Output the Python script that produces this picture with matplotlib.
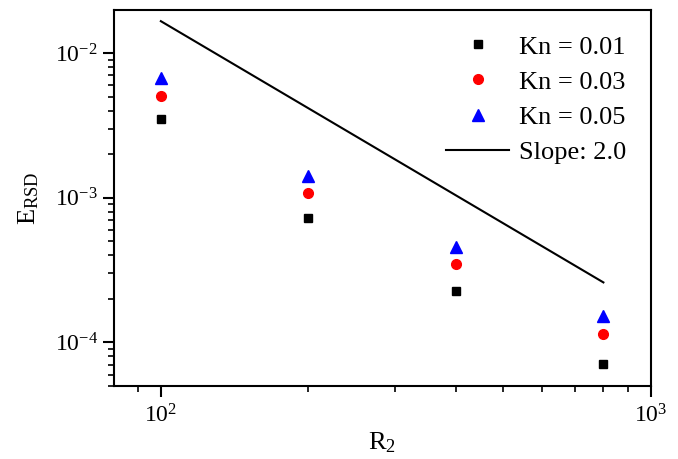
import numpy as np
import matplotlib
matplotlib.use("Agg")
import matplotlib.pyplot as plt

plt.rcParams["font.family"] = "Liberation Serif"
plt.rcParams["mathtext.fontset"] = "custom"
plt.rcParams["mathtext.rm"] = "Liberation Serif"
plt.rcParams["mathtext.it"] = "Liberation Serif:italic"

# data
r2 = [100, 200, 400, 800]
kn001 = [3.5e-3, 7.3e-4, 2.28e-4, 7.15e-5]
kn003 = [5.05e-3, 1.07e-3, 3.5e-4, 1.14e-4]
kn005 = [6.75e-3, 1.42e-3, 4.6e-4, 1.53e-4]
slope_x = [100, 800]
slope_y = [1.66e-2, 2.6e-4]

fig = plt.figure(figsize=(6.78, 4.59), dpi=100)
ax = fig.add_axes([0.168, 0.159, 0.792, 0.819])

ax.plot(r2, kn001, ls="none", marker="s", ms=6, color="black", label="Kn = 0.01")
ax.plot(r2, kn003, ls="none", marker="o", ms=7, color="red", label="Kn = 0.03")
ax.plot(r2, kn005, ls="none", marker="^", ms=8, color="blue", label="Kn = 0.05")
ax.plot(slope_x, slope_y, color="black", lw=1.5, label="Slope: 2.0")

ax.set_xscale("log")
ax.set_yscale("log")
ax.set_xlim(80.2, 1000)
ax.set_ylim(5.0e-5, 1.98e-2)

for s in ax.spines.values():
    s.set_linewidth(1.5)
ax.tick_params(which="major", direction="out", length=8, width=1.5,
               labelsize=17, top=False, right=False)
ax.tick_params(which="minor", direction="out", length=4, width=1.2,
               top=False, right=False)
ax.tick_params(axis="x", pad=5)

ax.set_xlabel(r"R$_2$", fontsize=19, labelpad=2)
ax.set_ylabel(r"E$_{\mathrm{RSD}}$", fontsize=19, labelpad=10)

ax.legend(loc="upper right", frameon=False, fontsize=19, handlelength=2.4,
          handletextpad=0.35, labelspacing=0.44, borderaxespad=0.55)

fig.savefig("out.png", dpi=100, facecolor="white")
